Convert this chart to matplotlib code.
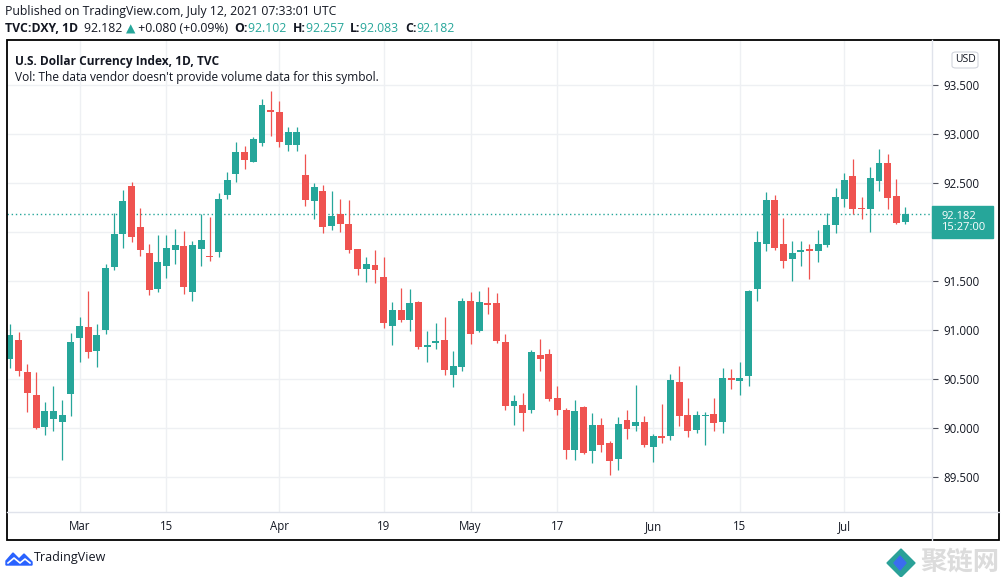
import numpy as np
import pandas as pd
import matplotlib
matplotlib.use('Agg')
import matplotlib.pyplot as plt
from matplotlib.patches import Rectangle, FancyBboxPatch, Polygon
from matplotlib.lines import Line2D

W, H = 1006, 577
UP = '#26a69a'
DOWN = '#ef5350'
TXT = '#131722'
GRID = '#eef0f3'

# 日线数据 (TVC:DXY)
dates = pd.bdate_range('2021-02-17', '2021-07-12')
opens = [90.711, 90.901, 90.575, 90.337, 90.017, 90.099, 90.068, 90.354, 90.925, 91.034,
         90.793, 91.007, 91.650, 91.986, 92.473, 92.054, 91.789, 91.425, 91.660, 91.823,
         91.861, 91.395, 91.833, 91.752, 91.803, 92.384, 92.599, 92.820, 92.721, 92.915,
         93.248, 93.228, 92.895, 92.895, 92.585, 92.323, 92.422, 92.068, 92.187, 92.085,
         91.830, 91.629, 91.667, 91.544, 91.048, 91.207, 91.105, 91.289, 90.833, 90.874,
         90.901, 90.544, 90.626, 91.299, 90.997, 91.279, 91.279, 90.881, 90.231, 90.238,
         90.190, 90.748, 90.759, 90.310, 90.190, 89.782, 90.218, 89.772, 90.034, 89.850,
         89.690, 90.085, 90.024, 90.065, 89.813, 89.922, 89.925, 90.473, 90.136, 89.986,
         90.126, 90.146, 90.068, 90.514, 90.486, 90.537, 91.425, 91.884, 92.330, 91.881,
         91.731, 91.803, 91.830, 91.813, 91.874, 92.078, 92.344, 92.575, 92.248, 92.241,
         92.527, 92.707, 92.371, 92.102]
highs = [91.065, 90.983, 90.656, 90.575, 90.269, 90.432, 90.289, 90.973, 91.136, 91.401,
         91.065, 91.677, 92.197, 92.432, 92.514, 92.248, 91.881, 91.973, 91.973, 92.034,
         92.014, 91.912, 92.187, 92.156, 92.401, 92.616, 92.922, 92.881, 92.973, 93.361,
         93.442, 93.340, 93.075, 93.075, 92.799, 92.503, 92.483, 92.422, 92.340, 92.330,
         91.830, 91.748, 91.820, 91.748, 91.289, 91.432, 91.422, 91.299, 90.993, 91.075,
         91.136, 90.789, 91.330, 91.391, 91.401, 91.442, 91.381, 90.963, 90.340, 90.361,
         90.799, 90.912, 90.810, 90.432, 90.207, 90.289, 90.228, 90.156, 90.105, 89.871,
         90.116, 90.187, 90.442, 90.126, 89.942, 90.252, 90.554, 90.636, 90.310, 90.177,
         90.167, 90.310, 90.616, 90.605, 90.677, 91.412, 92.014, 92.412, 92.381, 92.146,
         91.912, 91.912, 91.881, 92.024, 92.197, 92.452, 92.605, 92.748, 92.361, 92.667,
         92.850, 92.799, 92.544, 92.257]
lows = [90.619, 90.537, 90.170, 89.993, 89.935, 89.976, 89.680, 90.129, 90.680, 90.721,
        90.629, 90.966, 91.619, 91.844, 91.905, 91.762, 91.364, 91.395, 91.537, 91.680,
        91.374, 91.303, 91.660, 91.711, 91.752, 92.344, 92.517, 92.650, 92.718, 92.884,
        92.983, 92.874, 92.833, 92.833, 92.272, 92.139, 91.997, 92.027, 92.007, 91.793,
        91.568, 91.497, 91.486, 91.027, 90.854, 91.088, 90.997, 90.813, 90.680, 90.813,
        90.544, 90.425, 90.588, 90.864, 90.986, 91.170, 90.874, 90.190, 90.037, 89.976,
        90.160, 90.588, 90.282, 90.139, 89.690, 89.680, 89.741, 89.650, 89.762, 89.527,
        89.578, 89.895, 89.973, 89.813, 89.660, 89.854, 89.884, 90.027, 89.915, 89.956,
        89.833, 89.976, 89.956, 90.405, 90.344, 90.435, 91.303, 91.813, 91.823, 91.639,
        91.507, 91.660, 91.527, 91.701, 91.854, 91.997, 92.262, 92.190, 92.139, 92.007,
        92.425, 92.241, 92.088, 92.083]
closes = [90.952, 90.588, 90.364, 90.007, 90.177, 90.177, 90.136, 90.881, 91.044, 90.782,
          90.952, 91.636, 91.983, 92.320, 91.956, 91.823, 91.415, 91.697, 91.840, 91.871,
          91.446, 91.871, 91.922, 91.744, 92.340, 92.534, 92.820, 92.741, 92.952, 93.299,
          93.228, 92.925, 93.024, 93.024, 92.333, 92.463, 92.058, 92.167, 92.088, 91.823,
          91.629, 91.677, 91.619, 91.078, 91.207, 91.105, 91.279, 90.833, 90.850, 90.895,
          90.595, 90.636, 91.299, 90.966, 91.289, 91.262, 90.895, 90.231, 90.279, 90.160,
          90.779, 90.711, 90.303, 90.190, 89.782, 90.177, 89.752, 90.034, 89.833, 89.670,
          90.044, 89.997, 90.065, 89.833, 89.922, 89.905, 90.493, 90.129, 89.976, 90.136,
          90.136, 90.058, 90.514, 90.497, 90.514, 91.401, 91.901, 92.330, 91.844, 91.711,
          91.789, 91.820, 91.813, 91.881, 92.075, 92.361, 92.534, 92.241, 92.238, 92.554,
          92.707, 92.354, 92.099, 92.182]

tick_dates = ['2021-03-01', '2021-03-15', '2021-04-01', '2021-04-19', '2021-05-03',
              '2021-05-17', '2021-06-01', '2021-06-15', '2021-07-01']
tick_labels = ['Mar', '15', 'Apr', '19', 'May', '17', 'Jun', '15', 'Jul']
price_ticks = [89.5, 90.0, 90.5, 91.0, 91.5, 92.0, 92.5, 93.0, 93.5]
last_price = 92.182
last_time = '15:27:00'


def fxy(x, y):
    """像素坐标 -> figure 坐标"""
    return x / W, 1 - y / H


def draw_runs(fig, x, y, runs, size):
    """依次绘制不同样式的文字片段"""
    renderer = fig.canvas.get_renderer()
    for text, color, weight in runs:
        t = fig.text(*fxy(x, y), text, color=color, fontweight=weight,
                     fontsize=size, va='center', ha='left')
        bb = t.get_window_extent(renderer)
        x = bb.x1


plt.rcParams['font.family'] = ['Open Sans', 'DejaVu Sans']

fig = plt.figure(figsize=(W / 100, H / 100), dpi=100)
fig.patch.set_facecolor('white')

# 主图区域
ax = fig.add_axes([7 / W, 1 - 512 / H, (932 - 7) / W, (512 - 40) / H])
ax.set_facecolor('white')

x = np.arange(len(dates))
o = np.array(opens)
c = np.array(closes)
colors = np.where(c >= o, UP, DOWN)

ax.vlines(x, lows, highs, colors=colors, linewidth=0.9, zorder=3)
body_low = np.minimum(o, c)
body_h = np.maximum(np.abs(c - o), 0.012)
ax.bar(x, body_h, bottom=body_low, width=0.8, color=colors, linewidth=0, zorder=4)

ax.set_xlim((7 - 10) / 8.69, (932 - 10) / 8.69)
ax.set_ylim(89.146, 93.962)

pos = [dates.get_loc(pd.Timestamp(d)) for d in tick_dates]
ax.set_xticks(pos)
ax.set_xticklabels(tick_labels)
ax.set_yticks(price_ticks)
# 92.000 被最新价标签挡住, 不显示
ax.set_yticklabels(['' if abs(p - last_price) < 0.25 else '{:.3f}'.format(p)
                    for p in price_ticks])
ax.yaxis.tick_right()
ax.tick_params(axis='x', length=0, pad=6, labelsize=8.3, labelcolor=TXT)
ax.tick_params(axis='y', length=4, width=0.8, color='#50535e', pad=4,
               labelsize=8.3, labelcolor=TXT)
ax.grid(True, color=GRID, linewidth=1.0, zorder=0)
for s in ax.spines.values():
    s.set_visible(False)

ax.axhline(last_price, color=UP, linestyle=(0, (1, 2)), linewidth=1.0, zorder=2)

# 边框与分隔线
fig.add_artist(Line2D([932 / W, 932 / W], [1 - 40 / H, 1 - 540 / H], color='#e0e3eb', lw=1))
fig.add_artist(Line2D([7 / W, 999 / W], [1 - 512 / H, 1 - 512 / H], color='#e0e3eb', lw=1))
fig.add_artist(Rectangle(fxy(7, 540), (999 - 7) / W, (540 - 40) / H, fill=False,
                         edgecolor='black', lw=1.3, transform=fig.transFigure))

# 最新价格标签
fig.canvas.draw()
py = ax.transData.transform((0, last_price))[1]
ytop = H - py - 8.5
fig.add_artist(Rectangle(fxy(932, ytop + 32), 61 / W, 32 / H, color=UP,
                         transform=fig.transFigure, zorder=5))
fig.text(*fxy(941, ytop + 16), '{:.3f}\n{}'.format(last_price, last_time), color='white',
         fontsize=8, linespacing=1.0, va='center', ha='left', zorder=6)

# USD 标签
fig.add_artist(FancyBboxPatch(fxy(952, 68), 26 / W, 16 / H,
                              boxstyle='round,pad=0,rounding_size=0.004',
                              facecolor='white', edgecolor='#d1d4dc', lw=0.8,
                              transform=fig.transFigure))
fig.text(*fxy(965, 59.5), 'USD', color=TXT, fontsize=7.5, va='center', ha='center')

# 标题文字
fig.text(*fxy(5, 12), 'Published on TradingView.com, July 12, 2021 07:33:01 UTC',
         color=TXT, fontsize=8.8, va='center', ha='left')
draw_runs(fig, 5, 29, [
    ('TVC:DXY, 1D  ', TXT, 'bold'),
    ('92.182 ', TXT, 'normal'),
    ('\u25b2', UP, 'normal'),
    (' +0.080 (+0.09%)  ', TXT, 'normal'),
    ('O:', TXT, 'bold'), ('92.102  ', UP, 'normal'),
    ('H:', TXT, 'bold'), ('92.257  ', UP, 'normal'),
    ('L:', TXT, 'bold'), ('92.083  ', UP, 'normal'),
    ('C:', TXT, 'bold'), ('92.182', UP, 'normal'),
], 8.8)
fig.text(*fxy(15, 61), 'U.S. Dollar Currency Index, 1D, TVC', color=TXT,
         fontsize=8.6, fontweight='bold', va='center', ha='left')
fig.text(*fxy(15, 77), "Vol: The data vendor doesn't provide volume data for this symbol.",
         color=TXT, fontsize=8.6, va='center', ha='left')

# TradingView 标志
logo = [(6, 565), (6, 561), (13, 553), (19, 559), (24, 554), (32, 562), (32, 565)]
fig.add_artist(Polygon([fxy(*p) for p in logo], closed=True, color='#2962ff',
                       transform=fig.transFigure))
fig.add_artist(Line2D([fxy(8, 0)[0], fxy(14, 0)[0], fxy(20, 0)[0], fxy(25, 0)[0], fxy(30, 0)[0]],
                      [fxy(0, 563)[1], fxy(0, 558)[1], fxy(0, 563)[1], fxy(0, 559)[1], fxy(0, 563)[1]],
                      color='white', lw=1.2))
fig.text(*fxy(34, 558), 'TradingView', color=TXT, fontsize=9, va='center', ha='left')

# 水印
fig.add_artist(Polygon([fxy(901, 549), fxy(915, 563), fxy(901, 577), fxy(887, 563)],
                       closed=True, color='#2aa198', transform=fig.transFigure))
fig.add_artist(Polygon([fxy(900, 556), fxy(906, 563), fxy(900, 570), fxy(894, 563)],
                       closed=True, color='#3b6cf0', transform=fig.transFigure))
fig.text(*fxy(960, 562), '聚链网', color='#dcdcdc', fontsize=19, fontweight='bold',
         family=['Noto Sans CJK SC'], va='center', ha='center')

fig.savefig('out.png', dpi=100)
